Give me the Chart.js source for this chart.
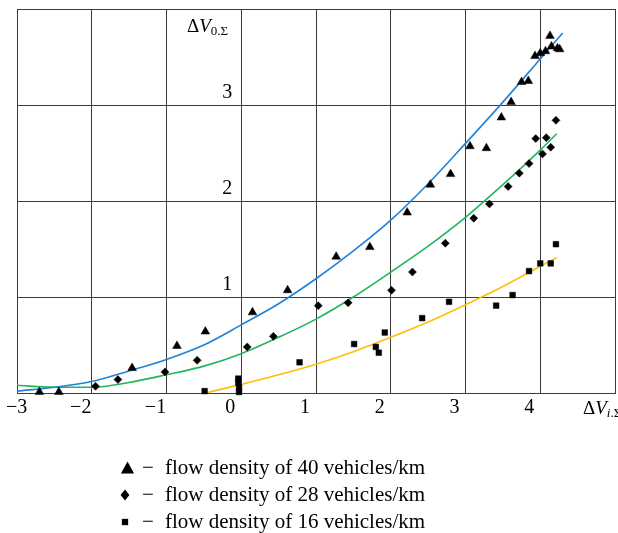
<!DOCTYPE html>
<html><head><meta charset="utf-8">
<script src="https://cdn.jsdelivr.net/npm/chart.js@4.4.1/dist/chart.umd.min.js"></script>
<style>html,body{margin:0;padding:0;background:#fff;}#wrap{width:618px;height:533px;}</style>
</head><body><div id="wrap"><canvas id="c" width="618" height="533"></canvas></div>
<script>
// ---- data ----
const xTickValues = [-3, -2, -1, 0, 1, 2, 3, 4, 5];
const yTickLabels = [1, 2, 3];
const seriesLabels = [
  '\u2212 flow density of 40 vehicles/km',
  '\u2212 flow density of 28 vehicles/km',
  '\u2212 flow density of 16 vehicles/km'
];
// 40 vehicles/km (triangles)
const triX = [-2.70, -2.44, -1.46, -0.86, -0.48, 0.15, 0.62, 1.27, 1.72, 2.22, 2.53, 2.80, 3.06, 3.28, 3.48, 3.61, 3.75, 3.84, 3.93, 4.00, 4.07, 4.13, 4.15, 4.23, 4.26];
const triY = [0.01, 0.01, 0.26, 0.49, 0.64, 0.84, 1.07, 1.42, 1.52, 1.88, 2.17, 2.28, 2.57, 2.55, 2.87, 3.03, 3.24, 3.25, 3.51, 3.54, 3.56, 3.72, 3.61, 3.59, 3.58];
// 28 vehicles/km (diamonds)
const diaX = [-1.95, -1.65, -1.02, -0.59, 0.08, 0.43, 1.03, 1.43, 2.01, 2.29, 2.73, 3.11, 3.32, 3.57, 3.72, 3.85, 3.94, 4.03, 4.08, 4.14, 4.21];
const diaY = [0.07, 0.14, 0.22, 0.34, 0.48, 0.59, 0.91, 0.94, 1.07, 1.26, 1.56, 1.82, 1.97, 2.15, 2.29, 2.39, 2.65, 2.49, 2.66, 2.56, 2.84];
// 16 vehicles/km (squares)
const sqX = [-0.49, -0.04, -0.04, -0.03, -0.03, 0.78, 1.51, 1.80, 1.84, 1.92, 2.42, 2.78, 3.41, 3.63, 3.85, 4.00, 4.14, 4.21];
const sqY = [0.02, 0.15, 0.11, 0.06, 0.01, 0.32, 0.51, 0.48, 0.42, 0.63, 0.78, 0.95, 0.91, 1.02, 1.27, 1.35, 1.35, 1.55];
// fitted curves
const blueX = [-3, -2.5, -2, -1.5, -1, -0.5, 0, 0.5, 1, 1.5, 2, 2.5, 3, 3.5, 4, 4.3];
const blueY = [0.02, 0.06, 0.12, 0.23, 0.35, 0.50, 0.71, 0.93, 1.19, 1.48, 1.80, 2.18, 2.60, 3.03, 3.48, 3.75];
const greenX = [-3, -2.5, -2, -1.5, -1, -0.5, 0, 0.5, 1, 1.5, 2, 2.5, 3, 3.5, 4, 4.22];
const greenY = [0.08, 0.06, 0.06, 0.11, 0.19, 0.28, 0.41, 0.58, 0.77, 1.00, 1.26, 1.53, 1.83, 2.17, 2.53, 2.70];
const yellowX = [-0.48, 0, 0.5, 1, 1.5, 2, 2.5, 3, 3.5, 4, 4.22];
const yellowY = [0.00, 0.09, 0.19, 0.30, 0.43, 0.58, 0.74, 0.92, 1.11, 1.32, 1.41];

const pts = (xs, ys) => xs.map((x, i) => ({x: x, y: ys[i]}));
const SERIF = '"Liberation Serif", "Times New Roman", serif';
const GRID = '#3c3c3c';

function marker(ctx, style, x, y, s) {
  ctx.beginPath();
  if (style === 'triangle') {
    ctx.moveTo(x, y - s * 0.55); ctx.lineTo(x + s * 0.55, y + s * 0.45); ctx.lineTo(x - s * 0.55, y + s * 0.45);
  } else if (style === 'rectRot') {
    ctx.moveTo(x, y - s * 0.5); ctx.lineTo(x + s * 0.4, y); ctx.lineTo(x, y + s * 0.5); ctx.lineTo(x - s * 0.4, y);
  } else {
    ctx.rect(x - s * 0.35, y - s * 0.35, s * 0.7, s * 0.7);
  }
  ctx.closePath(); ctx.fill();
}

const textPlugin = {
  id: 'textPlugin',
  afterDraw(chart) {
    const ctx = chart.ctx;
    ctx.save();
    ctx.fillStyle = '#000';
    ctx.textBaseline = 'alphabetic';
    ctx.textAlign = 'left';
    function runs(x, y, parts) {
      parts.forEach(p => {
        ctx.font = p[1];
        ctx.fillText(p[0], x, y + (p[2] || 0));
        x += ctx.measureText(p[0]).width;
      });
    }
    // axis titles
    runs(187, 32, [['\u0394', '19px ' + SERIF], ['V', 'italic 19px ' + SERIF], ['0.\u03A3', '13px ' + SERIF, 3]]);
    runs(583, 414, [['\u0394', '19px ' + SERIF], ['V', 'italic 19px ' + SERIF], ['i', 'italic 13px ' + SERIF, 3], ['.\u03A3', '13px ' + SERIF, 3]]);
    // key
    const sizes = [12, 11, 9];
    const mx = [127.5, 125, 125];
    chart.data.datasets.slice(0, 3).forEach((ds, i) => {
      marker(ctx, ds.pointStyle, mx[i], 468 + i * 27, sizes[i]);
      const cut = ds.label.indexOf(' ');
      ctx.font = '21px ' + SERIF;
      ctx.fillText(ds.label.slice(0, cut), 142, 474 + i * 27);
      ctx.fillText(ds.label.slice(cut + 1), 165, 474 + i * 27);
    });
    ctx.restore();
  }
};

new Chart(document.getElementById('c'), {
  type: 'scatter',
  data: {
    datasets: [
      {label: seriesLabels[0], data: pts(triX, triY), pointStyle: 'triangle', pointRadius: 5, backgroundColor: '#000', borderColor: '#000', pointBorderWidth: 0.5, clip: false},
      {label: seriesLabels[1], data: pts(diaX, diaY), pointStyle: 'rectRot', pointRadius: 4, backgroundColor: '#000', borderColor: '#000', pointBorderWidth: 0.5, clip: false},
      {label: seriesLabels[2], data: pts(sqX, sqY), pointStyle: 'rect', pointRadius: 4, backgroundColor: '#000', borderColor: '#000', pointBorderWidth: 0.5, clip: false},
      {label: 'fit 40', data: pts(blueX, blueY), showLine: true, pointRadius: 0, borderColor: '#1f82d8', borderWidth: 1.6, cubicInterpolationMode: 'monotone'},
      {label: 'fit 28', data: pts(greenX, greenY), showLine: true, pointRadius: 0, borderColor: '#22b45c', borderWidth: 1.6, cubicInterpolationMode: 'monotone'},
      {label: 'fit 16', data: pts(yellowX, yellowY), showLine: true, pointRadius: 0, borderColor: '#ffbe0a', borderWidth: 1.6, cubicInterpolationMode: 'monotone'}
    ]
  },
  options: {
    responsive: false,
    animation: false,
    devicePixelRatio: 1,
    layout: {autoPadding: false, padding: {left: 17, top: 9, right: 3, bottom: 110}},
    plugins: {legend: {display: false}, tooltip: {enabled: false}},
    scales: {
      x: {
        type: 'linear', min: xTickValues[0], max: xTickValues[xTickValues.length - 1],
        afterBuildTicks: s => { s.ticks = xTickValues.map(v => ({value: v})); },
        afterFit: s => { s.height = 30; s.paddingLeft = 0; s.paddingRight = 0; },
        grid: {color: GRID, lineWidth: 1, drawTicks: false},
        border: {color: GRID},
        ticks: {
          align: 'inner', labelOffset: -11, padding: 3, color: '#000', maxRotation: 0, autoSkip: false,
          font: {family: SERIF, size: 20},
          callback: v => v === xTickValues[xTickValues.length - 1] ? '' : String(v).replace('-', '\u2212')
        }
      },
      y: {
        type: 'linear', min: 0, max: 4, position: {x: -0.12},
        afterFit: s => { s.paddingTop = 0; s.paddingBottom = 0; },
        grid: {color: GRID, lineWidth: 1, drawTicks: false},
        border: {display: false},
        ticks: {
          stepSize: 1, labelOffset: -12, color: '#000',
          font: {family: SERIF, size: 20},
          callback: v => yTickLabels.includes(v) ? String(v) : ''
        }
      }
    }
  },
  plugins: [textPlugin]
});
</script></body></html>
